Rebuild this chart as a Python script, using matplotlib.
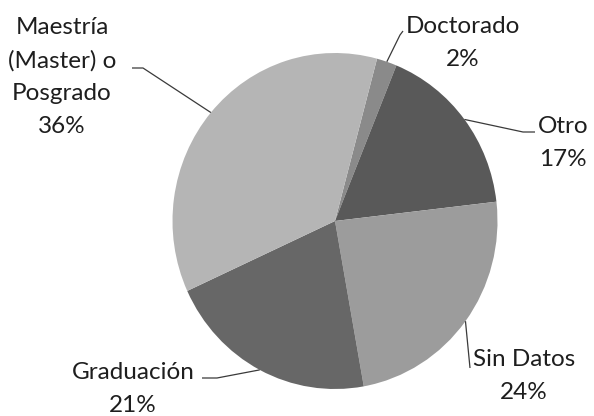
import numpy as np
import matplotlib
matplotlib.use("Agg")
import matplotlib.pyplot as plt

LABELS = ["Doctorado", "Otro", "Sin Datos", "Graduación", "Maestría\n(Master) o\nPosgrado"]
PCTS = [2, 17, 24, 21, 36]
COLORS = ["#8a8a8a", "#595959", "#9c9c9c", "#676767", "#b5b5b5"]

# layout in image pixels (origin top-left)
W, H = 594, 416
CX, CY, RX, RY = 335, 221, 162.5, 168
TEXT_POS = [(463, 43), (563, 143), (524, 376), (133, 389), (62, 77)]
ELBOWS = [
    [(400, 35), (403, 31)],
    [(523, 132), (535, 132)],
    [(470, 368)],
    [(217, 378), (202, 378)],
    [(143, 68), (132, 68)],
]

plt.rcParams["font.family"] = ["Lato", "DejaVu Sans"]

fig = plt.figure(figsize=(W / 100, H / 100), dpi=100)
fig.patch.set_facecolor("white")

pie_ax = fig.add_axes([(CX - RX) / W, (H - CY - RY) / H, 2 * RX / W, 2 * RY / H])
wedges, _ = pie_ax.pie(PCTS, colors=COLORS, startangle=75, counterclock=False,
                       radius=1, wedgeprops=dict(linewidth=0))
pie_ax.set_aspect("auto")
pie_ax.set_xlim(-1, 1)
pie_ax.set_ylim(-1, 1)
pie_ax.axis("off")

ov = fig.add_axes([0, 0, 1, 1])
ov.set_xlim(0, W)
ov.set_ylim(H, 0)
ov.axis("off")
ov.patch.set_alpha(0)

for w, lab, pct, (tx, ty), elbow in zip(wedges, LABELS, PCTS, TEXT_POS, ELBOWS):
    mid = np.deg2rad((w.theta1 + w.theta2) / 2)
    ex = CX + RX * np.cos(mid)
    ey = CY - RY * np.sin(mid)
    xs = [ex] + [p[0] for p in elbow]
    ys = [ey] + [p[1] for p in elbow]
    ov.plot(xs, ys, color="#3a3a3a", linewidth=0.9, solid_capstyle="butt")
    ov.text(tx, ty, f"{lab}\n{pct}%", ha="center", va="center", multialignment="center",
            fontsize=17.5, color="#1e1e1e", linespacing=1.68)

fig.savefig("out.png", dpi=100, facecolor="white")
